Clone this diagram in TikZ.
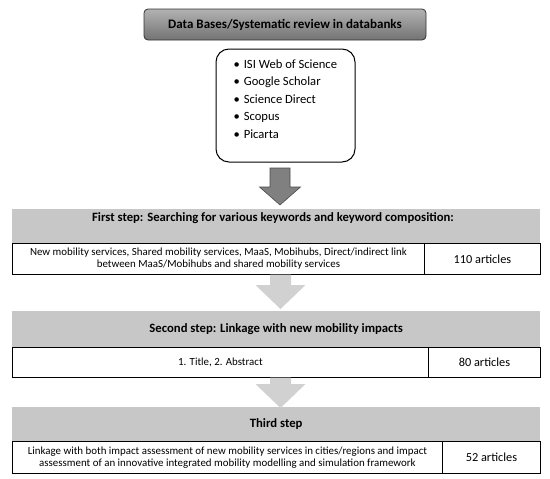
\documentclass[tikz,border=0pt]{standalone}
\usepackage{fontspec}
\setmainfont{Carlito}
\begin{document}
\begin{tikzpicture}[x=1pt,y=-1pt,
  topbox/.style={draw=black!80, line width=0.8pt, rounded corners=4pt, top color=black!30, bottom color=black!55, minimum width=282pt, minimum height=31pt, inner sep=0pt, font=\fontsize{13}{15}\selectfont\bfseries},
  listbox/.style={draw=black, line width=1pt, rounded corners=13pt, fill=white, minimum width=139pt, minimum height=113pt, inner sep=0pt},
  band/.style={fill=black!22, minimum width=528pt, minimum height=34pt, inner sep=0pt, anchor=north west, font=\fontsize{12.7}{14}\selectfont\bfseries},
  cell/.style={draw=black, line width=0.9pt, fill=white, inner sep=0pt, anchor=north west, align=center, font=\fontsize{10.9}{12}\selectfont},
  count/.style={cell, font=\fontsize{12.3}{14}\selectfont},
  darkarrow/.style={fill=black!50, draw=black!70, line width=0.6pt},
  lightarrow/.style={fill=black!18, draw=none}
]
\useasboundingbox (0,0) rectangle (550,479);

\node[topbox] (top) at (285,24.5) {Data Bases/Systematic review in databanks};
\node[listbox] (dbs) at (285.5,105.5) {};
\node[anchor=west, align=left, font=\fontsize{12.6}{17.5}\selectfont] (items) at (230,99)
  {\textbullet\hspace{4pt}ISI Web of Science\\
   \textbullet\hspace{4pt}Google Scholar\\
   \textbullet\hspace{4pt}Science Direct\\
   \textbullet\hspace{4pt}Scopus\\
   \textbullet\hspace{4pt}Picarta};

% step 1
\node[band, minimum height=34pt] (b1) at (12,209) {};
\node (b1t) at (273,218.5) {\fontsize{12.7}{14}\selectfont\bfseries First step: Searching for various keywords and keyword composition:};
\node[cell, minimum width=412pt, minimum height=31pt] (c1a) at (12,243)
  {New mobility services, Shared mobility services, MaaS, Mobihubs, Direct/indirect link\\ between MaaS/Mobihubs and shared mobility services};
\node[count, minimum width=116pt, minimum height=31pt] (c1b) at (424,243) {110 articles};

% step 2
\node[band, minimum height=36pt] (b2) at (12,311) {Second step: Linkage with new mobility impacts};
\node[cell, minimum width=416pt, minimum height=30pt] (c2a) at (12,347) {1. Title, 2. Abstract};
\node[count, minimum width=112pt, minimum height=30pt] (c2b) at (428,347) {80 articles};

% step 3
\node[band, minimum height=34pt] (b3) at (12,407) {Third step};
\node[cell, minimum width=430pt, minimum height=32pt] (c3a) at (12,441)
  {Linkage with both impact assessment of new mobility services in cities/regions and impact\\ assessment of an innovative integrated mobility modelling and simulation framework};
\node[count, minimum width=98pt, minimum height=32pt] (c3b) at (442,441) {52 articles};

% block arrows
\newcommand\blockarr[5]{%
  \path[#1] (#2-10,#3) -- (#2+10,#3) -- (#2+10,#4) -- (#2+20.5,#4) -- (#2,#5) -- (#2-20.5,#4) -- (#2-10,#4) -- cycle;}
\newcommand\lightblockarr[5]{%
  \path[#1] (#2-10.5,#3) -- (#2+10.5,#3) -- (#2+10.5,#4) -- (#2+25,#4) -- (#2,#5) -- (#2-25,#4) -- (#2-10.5,#4) -- cycle;}
\blockarr{darkarrow}{280}{168}{187}{205}
\lightblockarr{lightarrow}{280.5}{274.5}{285}{309}
\lightblockarr{lightarrow}{280.5}{377.5}{384}{408}
\end{tikzpicture}
\end{document}
